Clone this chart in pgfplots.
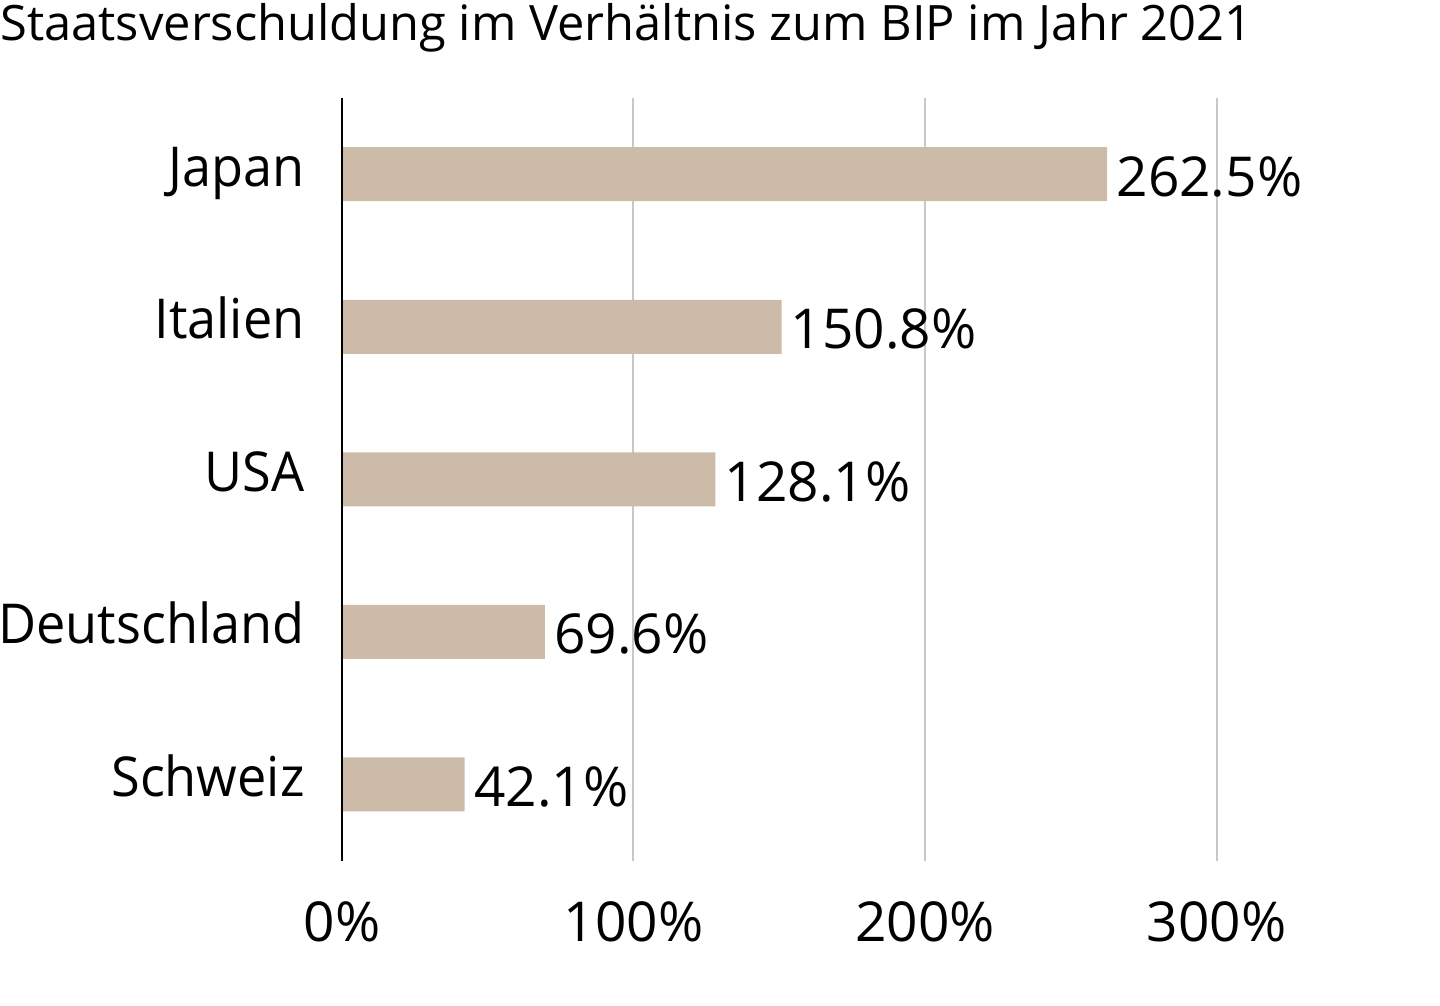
\documentclass[border=0pt]{standalone}
\usepackage{fontspec}
\setmainfont{Open Sans}
\newfontfamily\catfont[FakeStretch=0.95]{Open Sans}
\usepackage{pgfplots}
\pgfplotsset{compat=1.18}
\definecolor{barbeige}{HTML}{CDBBA9}
\definecolor{gridgray}{HTML}{C8C8C8}

\begin{document}
\begin{tikzpicture}
\begin{axis}[
    x=1.4575pt, y=76.25pt,
    xmin=0, xmax=300,
    ymin=-0.5, ymax=4.5,
    xbar, bar width=27pt,
    axis lines*=left,
    x axis line style={draw=none},
    y axis line style={black, line width=1pt},
    major tick length=0pt,
    xtick={0,100,200,300},
    xticklabel={\pgfmathprintnumber[assume math mode=true]{\tick}\%},
    xticklabel style={anchor=base, inner sep=0pt, yshift=-40.5pt,
        font=\fontsize{27.5}{31}\selectfont},
    ytick={0,1,2,3,4},
    yticklabels={Schweiz,Deutschland,USA,Italien,Japan},
    yticklabel style={anchor=base east, inner sep=0pt, xshift=-18.5pt, yshift=-6pt,
        font=\catfont\fontsize{27.5}{31}\selectfont},
    xmajorgrids,
    grid style={gridgray, line width=1pt},
    nodes near coords={\pgfmathprintnumber[fixed,fixed zerofill,precision=1,assume math mode=true]{\pgfplotspointmeta}\%},
    nodes near coords style={anchor=base west, inner sep=0pt, xshift=4.5pt, yshift=-11pt,
        font=\fontsize{27.5}{31}\selectfont, black},
    point meta=x,
    clip=false,
]
\addplot[fill=barbeige, draw=none] coordinates {
    (42.1,0) (69.6,1) (128.1,2) (150.8,3) (262.5,4)
};
\draw[black, line width=1pt] (axis cs:0,-0.5) -- (axis cs:0,4.5);
\node[anchor=base west, inner sep=0pt, font=\fontsize{24.4}{28}\selectfont]
    at (axis cs:-117.32,4.880) {Staatsverschuldung im Verhältnis zum BIP im Jahr 2021};
\coordinate (BL) at (axis cs:-117.32,-1.4508);
\coordinate (TR) at (axis cs:376.67,5.1426);
\end{axis}
\pgfresetboundingbox
\path[use as bounding box] (BL) rectangle (TR);
\end{tikzpicture}
\end{document}
